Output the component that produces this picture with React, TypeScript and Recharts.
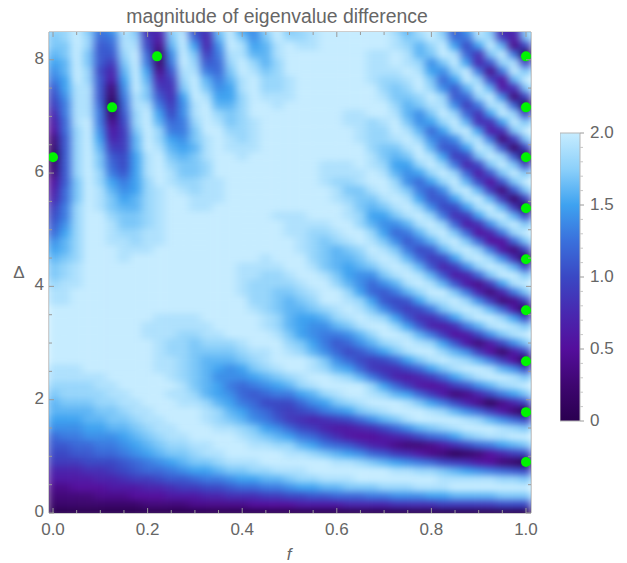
import { Bar, BarChart, Scatter, ScatterChart, XAxis, YAxis } from 'recharts';

// tick positions, f across and delta up
const fGrid = [0, 0.025, 0.05, 0.075, 0.1, 0.125, 0.15, 0.175, 0.2, 0.225, 0.25, 0.275, 0.3, 0.325, 0.35, 0.375, 0.4, 0.425, 0.45, 0.475, 0.5, 0.525, 0.55, 0.575, 0.6, 0.625, 0.65, 0.675, 0.7, 0.725, 0.75, 0.775, 0.8, 0.825, 0.85, 0.875, 0.9, 0.925, 0.95, 0.975, 1];
const deltaGrid = [0, 0.15, 0.3, 0.45, 0.6, 0.75, 0.9, 1.05, 1.2, 1.35, 1.5, 1.65, 1.8, 1.95, 2.1, 2.25, 2.4, 2.55, 2.7, 2.85, 3, 3.15, 3.3, 3.45, 3.6, 3.75, 3.9, 4.05, 4.2, 4.35, 4.5, 4.65, 4.8, 4.95, 5.1, 5.25, 5.4, 5.55, 5.7, 5.85, 6, 6.15, 6.3, 6.45, 6.6, 6.75, 6.9, 7.05, 7.2, 7.35, 7.5, 7.65, 7.8, 7.95, 8.1, 8.25, 8.4, 8.55];

// magnitude in tenths, one row per delta
const magnitudeTenths = [
  [0,0,0,0,0, 0,0,0,0,0, 0,0,0,0,0, 0,0,0,0,0, 0,0,0,0,0, 0,0,0,0,0, 0,0,0,0,0, 0,0,0,0,0, 0],
  [2,2,2,2,2, 2,2,2,3,3, 3,3,4,4,4, 4,4,5,5,5, 5,6,6,6,6, 7,7,7,7,8, 8,8,8,9,9, 9,9,9,10,10, 10],
  [3,3,3,3,4, 4,4,5,5,5, 6,6,6,7,7, 8,8,8,9,9, 10,10,11,11,12, 12,12,13,13,14, 14,14,15,15,16, 16,16,16,17,17, 17],
  [4,4,5,5,5, 6,6,6,7,7, 8,9,9,10,10, 11,12,12,13,13, 14,15,15,16,16, 17,17,17,18,18, 18,19,19,19,20, 20,20,20,20,20, 20],
  [6,6,6,6,7, 7,8,9,9,10, 11,11,12,13,13, 14,15,15,16,16, 17,18,18,19,19, 19,20,20,20,20, 20,20,20,19,19, 19,19,19,18,18, 17],
  [7,7,7,8,8, 9,10,11,12,12, 13,14,15,15,16, 17,17,18,18,19, 19,19,20,20,20, 20,20,20,20,19, 19,18,18,17,16, 15,14,13,12,11, 10],
  [9,9,9,10,10, 10,11,12,13,14, 15,16,17,17,18, 19,19,19,20,20, 20,20,20,20,19, 19,18,17,16,15, 14,13,12,10,9, 8,6,5,3,2, 0],
  [10,10,11,11,12, 12,13,14,15,16, 17,17,18,19,19, 20,20,20,20,20, 19,19,18,17,16, 15,14,12,11,9, 8,6,4,3,1, 2,3,5,7,9, 10],
  [11,11,12,12,13, 13,14,15,16,17, 18,18,19,19,20, 20,20,19,19,18, 18,16,15,13,12, 11,9,7,6,4, 3,3,4,6,8, 10,12,13,15,16, 17],
  [12,13,13,14,14, 14,15,16,17,18, 19,19,20,20,20, 20,19,18,17,16, 15,13,12,10,8, 6,5,5,6,7, 8,10,12,13,15, 17,18,19,19,20, 20],
  [14,14,14,15,15, 16,16,17,18,19, 19,20,20,20,19, 19,18,17,15,14, 12,10,9,7,6, 6,7,8,10,12, 14,16,17,18,19, 20,20,20,19,18, 17],
  [15,15,15,16,16, 17,17,18,19,19, 20,20,20,19,18, 17,16,14,13,11, 9,8,7,8,9, 10,12,14,16,17, 19,20,20,20,20, 19,18,16,14,12, 10],
  [16,16,16,16,17, 17,18,19,19,20, 20,20,20,19,18, 16,15,13,12,10, 9,10,11,13,14, 15,17,18,19,20, 20,20,19,18,16, 14,12,9,6,3, 0],
  [16,17,17,17,18, 18,19,19,20,20, 20,19,19,18,16, 15,13,12,10,10, 10,12,14,15,17, 18,19,20,20,20, 19,17,15,13,10, 7,4,1,4,7, 10],
  [17,18,18,18,18, 19,19,20,20,20, 19,19,18,16,15, 14,12,11,12,13, 13,15,16,18,19, 20,20,19,18,16, 15,12,9,6,3, 4,7,10,13,15, 17],
  [18,18,18,18,19, 19,20,20,20,20, 20,19,17,16,15, 13,12,13,14,15, 16,18,19,20,20, 20,20,18,15,12, 9,6,5,6,9, 11,14,16,18,19, 20],
  [19,19,19,19,19, 20,20,20,20,20, 19,18,17,16,14, 14,14,15,16,17, 18,19,20,20,19, 18,16,13,10,7, 6,7,9,12,15, 17,19,20,20,19, 17],
  [19,19,19,20,20, 20,20,20,20,19, 19,18,17,16,15, 14,15,17,18,19, 20,20,19,18,16, 15,12,9,8,8, 10,12,15,17,19, 20,20,19,16,14, 10],
  [20,20,20,20,20, 20,20,20,20,19, 19,18,17,16,16, 16,17,18,19,20, 20,20,19,17,14, 12,10,9,10,12, 15,17,19,20,19, 18,16,13,9,5, 0],
  [20,20,20,20,20, 20,20,20,20,19, 18,18,17,17,17, 17,18,19,19,20, 19,18,16,14,12, 10,11,13,15,17, 19,20,20,18,16, 14,9,5,2,6, 10],
  [20,20,20,20,20, 20,20,20,20,19, 18,18,17,18,18, 18,19,20,20,20, 18,17,15,13,11, 12,14,16,18,19, 20,19,18,15,11, 6,3,6,10,14, 17],
  [20,20,20,20,20, 20,20,20,19,19, 19,18,18,19,19, 20,20,20,20,19, 17,15,14,13,13, 14,16,18,20,20, 19,16,13,9,5, 6,10,14,17,19, 20],
  [20,20,20,20,20, 20,20,20,19,19, 19,19,19,19,20, 20,20,20,19,18, 16,15,14,14,16, 17,19,20,20,18, 15,11,7,6,8, 13,16,19,20,19, 17],
  [20,20,20,20,20, 20,20,20,20,19, 19,19,19,20,20, 20,20,20,19,18, 16,15,15,16,18, 19,20,19,18,15, 11,8,8,11,15, 18,20,20,18,15, 10],
  [20,20,20,20,20, 20,20,20,20,20, 20,20,20,20,20, 20,20,19,18,17, 16,16,17,18,19, 20,19,17,14,11, 9,10,13,17,19, 20,19,16,12,6, 0],
  [19,19,20,20,20, 20,20,20,20,20, 20,20,20,20,20, 20,20,18,18,17, 16,17,18,20,20, 19,18,15,11,10, 11,15,18,19,20, 18,14,9,3,4, 10],
  [19,19,20,20,20, 20,20,20,20,20, 20,20,20,20,20, 20,19,18,18,17, 17,18,19,20,20, 18,15,12,11,13, 16,18,20,20,17, 13,7,3,7,13, 17],
  [18,19,19,20,20, 20,20,20,20,20, 20,20,20,20,20, 20,19,18,18,18, 18,19,20,20,18, 16,14,12,14,16, 19,20,19,16,11, 6,4,9,15,19, 20],
  [17,18,19,20,20, 20,20,20,20,20, 20,20,20,20,20, 20,19,19,18,18, 19,20,20,19,17, 15,14,14,17,19, 20,19,16,11,6, 7,12,17,20,20, 17],
  [17,18,19,20,20, 20,20,20,20,20, 20,20,20,20,20, 20,19,19,19,19, 20,20,19,17,16, 15,16,17,19,20, 19,16,11,7,9, 14,18,20,19,16, 10],
  [16,17,18,20,20, 20,19,20,20,20, 20,20,20,20,20, 20,20,20,19,20, 20,20,18,17,16, 16,17,19,20,19, 16,12,9,10,15, 19,20,18,14,8, 0],
  [15,16,18,20,20, 20,19,19,19,20, 20,20,20,20,20, 20,20,20,20,20, 20,19,18,17,16, 17,18,20,19,17, 13,10,11,16,19, 20,18,13,6,3, 10],
  [14,16,18,20,20, 19,19,18,19,19, 20,20,20,20,20, 20,20,20,20,20, 20,19,18,17,18, 19,20,19,17,14, 11,13,16,19,20, 17,12,5,5,12, 17],
  [12,15,18,20,20, 19,18,18,19,19, 20,20,20,20,20, 20,20,20,20,20, 19,19,18,18,19, 20,20,18,15,12, 13,16,19,20,17, 12,5,7,13,18, 20],
  [11,14,18,20,20, 19,17,17,18,19, 20,20,20,20,20, 20,20,20,20,20, 19,19,19,19,20, 20,18,16,14,14, 16,19,20,18,12, 6,8,14,18,20, 17],
  [10,13,18,20,20, 18,17,17,18,19, 20,20,20,20,20, 20,20,20,20,19, 19,19,20,20,20, 19,18,15,15,17, 19,20,18,13,8, 9,15,19,20,16, 10],
  [9,13,18,20,19, 17,16,16,18,19, 20,20,19,19,20, 20,20,20,20,20, 20,20,20,20,20, 19,17,16,17,19, 20,18,14,10,10, 15,19,20,16,9, 0],
  [7,12,17,20,19, 17,15,16,18,19, 20,20,19,19,19, 20,20,20,20,20, 20,20,20,20,19, 18,17,17,19,20, 19,15,11,11,15, 19,20,16,9,2, 10],
  [6,12,17,20,19, 16,14,15,18,19, 20,19,18,19,19, 20,20,20,20,20, 20,20,20,20,19, 17,17,19,20,19, 17,13,11,14,19, 20,16,9,3,11, 17],
  [5,11,17,20,18, 15,13,15,18,20, 19,18,18,19,19, 20,20,20,20,20, 20,20,20,19,18, 18,19,20,20,18, 14,12,15,18,20, 16,10,5,11,17, 20],
  [3,11,18,20,18, 13,11,15,19,20, 19,17,17,18,20, 20,20,20,20,20, 20,20,20,19,19, 19,19,20,19,16, 14,15,18,20,18, 12,6,11,17,20, 17],
  [2,11,18,20,17, 12,10,15,19,20, 18,17,17,18,20, 20,20,20,20,20, 20,20,20,19,19, 19,20,19,18,15, 15,18,20,18,13, 7,10,17,20,17, 10],
  [0,11,18,20,17, 11,10,15,19,20, 17,16,17,19,20, 20,19,20,20,20, 20,20,20,20,20, 20,20,19,17,16, 17,20,19,15,9, 10,17,20,18,11, 0],
  [2,11,18,20,16, 9,9,16,20,19, 16,15,16,19,20, 19,19,19,20,20, 20,20,20,20,20, 20,20,18,17,17, 19,20,16,11,11, 15,20,18,11,2, 10],
  [3,11,18,20,15, 7,9,16,20,18, 15,14,17,19,20, 19,18,19,20,20, 20,20,20,20,20, 20,19,18,18,19, 20,18,14,12,14, 19,19,13,3,9, 17],
  [5,12,18,20,14, 6,9,17,20,18, 13,13,17,20,20, 18,18,19,20,20, 20,20,20,20,20, 20,19,18,18,20, 19,16,12,15,19, 20,15,6,8,17, 20],
  [6,12,19,20,13, 4,10,18,20,16, 12,13,18,20,19, 17,18,19,20,20, 20,20,20,20,20, 19,19,18,19,20, 17,14,15,18,20, 16,8,8,15,20, 17],
  [7,13,19,19,13, 2,11,18,20,15, 10,14,19,20,18, 17,18,20,20,20, 20,20,20,20,20, 19,19,20,20,19, 16,14,17,20,18, 12,8,15,20,18, 10],
  [9,13,19,19,12, 0,12,19,19,13, 9,14,19,20,16, 16,18,20,20,19, 20,20,20,20,20, 20,20,20,20,18, 16,17,19,19,14, 9,13,19,19,12, 0],
  [10,14,19,19,11, 2,13,19,17,11, 8,15,20,19,15, 15,18,20,19,19, 19,20,20,20,20, 20,20,20,19,17, 17,18,20,18,11, 12,18,20,14,3, 10],
  [11,15,19,19,11, 3,14,20,17,9, 8,17,20,17,14, 15,19,20,18,18, 19,20,20,20,20, 20,20,20,18,17, 18,20,18,14,11, 16,20,16,6,8, 17],
  [13,15,20,18,11, 6,15,20,16,7, 9,18,20,16,13, 16,19,20,18,18, 19,20,20,20,20, 20,20,19,18,18, 19,20,17,12,15, 20,18,10,5,16, 20],
  [14,16,20,18,10, 7,16,20,15,4, 11,19,19,13,12, 17,20,19,17,18, 20,20,20,20,20, 20,20,19,19,19, 20,19,15,14,18, 20,13,4,13,20, 17],
  [15,16,20,17,11, 9,17,20,13,2, 13,20,18,11,12, 18,20,18,16,18, 20,20,20,20,20, 20,20,19,19,20, 19,18,14,17,20, 15,7,11,18,19, 10],
  [16,17,20,17,11, 11,18,20,12,2, 14,20,17,9,13, 19,19,16,16,19, 20,20,20,20,20, 20,20,19,19,20, 19,16,17,20,19, 12,8,17,20,13, 0],
  [17,17,20,18,11, 12,19,19,10,4, 16,20,15,7,14, 20,19,15,16,19, 20,19,19,20,20, 20,20,20,20,19, 18,16,18,20,15, 10,15,20,16,4, 10],
  [17,18,20,18,12, 13,19,18,9,6, 17,20,12,7,16, 20,17,14,17,20, 18,18,19,20,20, 20,20,20,20,19, 17,18,20,18,12, 13,19,18,9,6, 17],
  [18,18,20,17,13, 15,20,17,7,8, 18,19,10,9,17, 20,15,14,18,20, 17,18,19,20,20, 20,20,20,20,18, 16,19,20,17,11, 15,20,17,7,8, 18],
];

const markerF = [0, 0.125, 0.22, 1, 1, 1, 1, 1, 1, 1, 1, 1];
const markerDelta = [6.28, 7.16, 8.06, 0.9, 1.78, 2.68, 3.58, 4.48, 5.38, 6.28, 7.16, 8.06];

const fTicks = [0, 0.05, 0.1, 0.15, 0.2, 0.25, 0.3, 0.35, 0.4, 0.45, 0.5, 0.55, 0.6, 0.65, 0.7, 0.75, 0.8, 0.85, 0.9, 0.95, 1];
const deltaTicks = [0, 0.5, 1, 1.5, 2, 2.5, 3, 3.5, 4, 4.5, 5, 5.5, 6, 6.5, 7, 7.5, 8];
const barTicks = [0, 0.1, 0.2, 0.3, 0.4, 0.5, 0.6, 0.7, 0.8, 0.9, 1, 1.1, 1.2, 1.3, 1.4, 1.5, 1.6, 1.7, 1.8, 1.9, 2];

const colorStops: [number, number[]][] = [
  [0, [42, 0, 80]],
  [0.25, [62, 6, 112]],
  [0.5, [84, 14, 156]],
  [0.75, [72, 40, 176]],
  [1, [58, 72, 196]],
  [1.25, [58, 112, 220]],
  [1.5, [62, 162, 240]],
  [1.75, [140, 208, 250]],
  [2, [198, 236, 255]],
];

function colorFor(v: number) {
  for (let i = 1; i < colorStops.length; i++) {
    const [hi, c1] = colorStops[i];
    const [lo, c0] = colorStops[i - 1];
    if (v <= hi) {
      const t = (v - lo) / (hi - lo);
      return `rgb(${c1.map((c, k) => Math.round(c0[k] + (c - c0[k]) * t)).join(',')})`;
    }
  }
  return 'rgb(198,236,255)';
}

const cells = magnitudeTenths.flatMap((row, r) =>
  row.map((v, c) => ({ f: fGrid[c], delta: deltaGrid[r], magnitude: v / 10 })),
);
const markers = markerF.map((f, i) => ({ f, delta: markerDelta[i] }));

const TEXT = '#666666';
const FRAME = '#9a9a9a';
const FONT = 'Liberation Sans';
const PLOT = { left: 49, right: 531, top: 32, bottom: 513 };
const CELL_W = 12.2;
const CELL_H = 8.9;

function HeatCell(props: any) {
  const { cx, cy, payload } = props;
  return <rect x={cx - CELL_W / 2} y={cy - CELL_H / 2} width={CELL_W} height={CELL_H} fill={colorFor(payload.magnitude)} />;
}

function Dot(props: any) {
  return <circle cx={props.cx} cy={props.cy} r={5} fill="#00f500" />;
}

function BottomTick({ x, y, payload }: any) {
  const major = Math.round(payload.value * 100) % 20 === 0;
  return (
    <g>
      <line x1={x} x2={x} y1={y} y2={y - (major ? 5 : 3)} stroke={FRAME} />
      {major && (
        <text x={x} y={y + 22} textAnchor="middle" fill={TEXT} fontSize={17} style={{ fontFamily: FONT }}>
          {payload.value.toFixed(1)}
        </text>
      )}
    </g>
  );
}

function TopTick({ x, y, payload }: any) {
  const major = Math.round(payload.value * 100) % 20 === 0;
  return <line x1={x} x2={x} y1={y} y2={y + (major ? 5 : 3)} stroke={FRAME} />;
}

function LeftTick({ x, y, payload }: any) {
  const major = payload.value % 2 === 0;
  return (
    <g>
      <line x1={x} x2={x + (major ? 5 : 3)} y1={y} y2={y} stroke={FRAME} />
      {major && (
        <text x={x - 5} y={y + 4} textAnchor="end" fill={TEXT} fontSize={17} style={{ fontFamily: FONT }}>
          {payload.value}
        </text>
      )}
    </g>
  );
}

function RightTick({ x, y, payload }: any) {
  const major = payload.value % 2 === 0;
  return <line x1={x} x2={x - (major ? 5 : 3)} y1={y} y2={y} stroke={FRAME} />;
}

function BarTick({ x, y, payload }: any) {
  const major = Math.round(payload.value * 10) % 5 === 0;
  return (
    <g>
      <line x1={x} x2={x + (major ? 4 : 3)} y1={y} y2={y} stroke={major ? FRAME : '#c8c8c8'} />
      {major && (
        <text x={x + 10} y={y + 5} fill={TEXT} fontSize={17} style={{ fontFamily: FONT }}>
          {payload.value === 0 ? '0' : payload.value.toFixed(1)}
        </text>
      )}
    </g>
  );
}

export default function App() {
  return (
    <div style={{ position: 'absolute', left: 0, top: 0, width: 627, height: 563, background: '#fff' }}>
      <style>{`.heat-layer { filter: url(#heatBlur); }`}</style>
      <ScatterChart width={627} height={563} margin={{ top: 0, right: 0, bottom: 0, left: 0 }}>
        <defs>
          <filter
            id="heatBlur"
            filterUnits="userSpaceOnUse"
            x={PLOT.left}
            y={PLOT.top}
            width={PLOT.right - PLOT.left}
            height={PLOT.bottom - PLOT.top}
            colorInterpolationFilters="sRGB"
          >
            <feGaussianBlur stdDeviation="4.5 3.2" edgeMode="duplicate" />
          </filter>
        </defs>
        <XAxis
          xAxisId="b"
          type="number"
          dataKey="f"
          orientation="bottom"
          height={50}
          domain={[-0.0085, 1.0106]}
          allowDataOverflow
          ticks={fTicks}
          interval={0}
          tickSize={0}
          tickMargin={0}
          tickLine={false}
          axisLine={{ stroke: FRAME }}
          tick={BottomTick}
        />
        <XAxis
          xAxisId="t"
          type="number"
          dataKey="f"
          orientation="top"
          height={32}
          domain={[-0.0085, 1.0106]}
          allowDataOverflow
          ticks={fTicks}
          interval={0}
          tickSize={0}
          tickMargin={0}
          tickLine={false}
          axisLine={{ stroke: FRAME }}
          tick={TopTick}
        />
        <YAxis
          yAxisId="l"
          type="number"
          dataKey="delta"
          orientation="left"
          width={49}
          domain={[0, 8.49]}
          allowDataOverflow
          ticks={deltaTicks}
          interval={0}
          tickSize={0}
          tickMargin={0}
          tickLine={false}
          axisLine={{ stroke: FRAME }}
          tick={LeftTick}
        />
        <YAxis
          yAxisId="r"
          type="number"
          dataKey="delta"
          orientation="right"
          width={96}
          domain={[0, 8.49]}
          allowDataOverflow
          ticks={deltaTicks}
          interval={0}
          tickSize={0}
          tickMargin={0}
          tickLine={false}
          axisLine={{ stroke: FRAME }}
          tick={RightTick}
        />
        <Scatter
          xAxisId="b"
          yAxisId="l"
          data={cells}
          className="heat-layer"
          shape={HeatCell}
          isAnimationActive={false}
        />
        <Scatter xAxisId="b" yAxisId="l" data={markers} shape={Dot} isAnimationActive={false} />
        <text x={277} y={23} textAnchor="middle" fill={TEXT} fontSize={19.4} style={{ fontFamily: FONT }}>
          magnitude of eigenvalue difference
        </text>
        <text x={289} y={560} textAnchor="middle" fill={TEXT} fontSize={17} fontStyle="italic" style={{ fontFamily: FONT }}>
          f
        </text>
        <text x={19} y={278} textAnchor="middle" fill={TEXT} fontSize={17} style={{ fontFamily: FONT }}>
          Δ
        </text>
      </ScatterChart>
      <div style={{ position: 'absolute', left: 560, top: 123 }}>
        <BarChart width={67} height={308} data={[{ v: 2 }]} margin={{ top: 10, right: 0, bottom: 10, left: 0 }} barCategoryGap={0}>
          <defs>
            <linearGradient id="barFill" x1="0" y1="0" x2="0" y2="1">
              {[...colorStops].reverse().map(([v]) => (
                <stop key={v} offset={1 - v / 2} stopColor={colorFor(v)} />
              ))}
            </linearGradient>
          </defs>
          <XAxis hide />
          <YAxis
            orientation="right"
            width={47}
            domain={[0, 2]}
            ticks={barTicks}
            interval={0}
            tickSize={0}
            tickMargin={0}
            tickLine={false}
            axisLine={false}
            tick={BarTick}
          />
          <Bar dataKey="v" fill="url(#barFill)" stroke="#b5b5b5" isAnimationActive={false} />
        </BarChart>
      </div>
    </div>
  );
}
